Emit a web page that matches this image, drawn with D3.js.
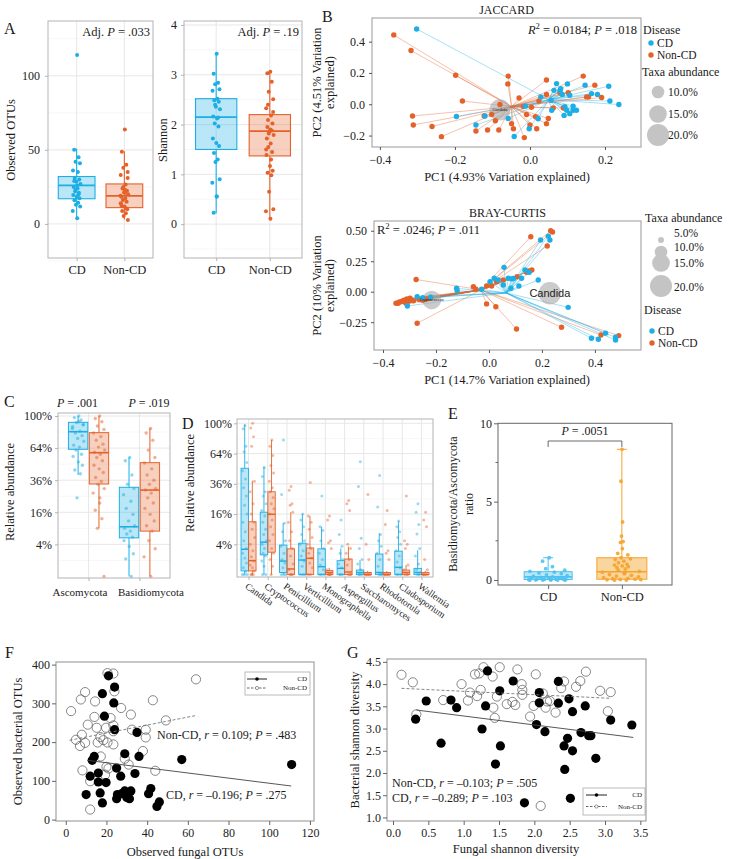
<!DOCTYPE html>
<html>
<head>
<meta charset="utf-8">
<title>Fungal microbiota figure</title>
<script src="https://cdn.jsdelivr.net/npm/d3@7"></script>
<style>
  body { margin: 0; background: #fff; }
</style>
</head>
<body>
<svg id="fig" width="730" height="859"></svg>
<script>
// ---------------- data ----------------
const groups = ["CD", "Non-CD"];

// A: observed OTUs / Shannon (box stats = lo, q1, median, q3, hi)
const aObsBoxCD = [4, 17, 26, 32, 51];
const aObsBoxNon = [3, 11, 19, 27, 49];
const aObsCD = [114, 50, 45, 42, 41, 36, 35, 31, 30, 28.5, 27, 25, 24, 22, 21, 19.5, 18.4, 17.3, 16, 14.3, 13, 11.7, 8.7, 3.8, 26, 29, 20, 23];
const aObsNon = [63.7, 48.7, 40, 38, 35, 33, 26.7, 24, 22.4, 21.3, 20, 18.4, 17.3, 16.1, 15, 13.5, 11.7, 9.9, 8.7, 7.2, 5.4, 2.7, 19, 21, 23, 12, 10.5, 25, 31, 14];
const aShanBoxCD = [0.22, 1.5, 2.15, 2.52, 3.42];
const aShanBoxNon = [0.1, 1.37, 1.87, 2.2, 3.06];
const aShanCD = [3.42, 3.02, 2.84, 2.81, 2.71, 2.68, 2.52, 2.49, 2.46, 2.36, 2.31, 2.16, 2.12, 2.02, 1.96, 1.72, 1.63, 1.57, 1.43, 1.30, 1.25, 0.90, 0.83, 0.55, 0.56, 0.23, 2.14, 2.4];
const aShanNon = [3.06, 3.03, 2.86, 2.66, 2.51, 2.33, 2.18, 2.09, 2.02, 1.86, 1.79, 1.72, 1.62, 1.55, 1.45, 1.39, 1.17, 1.07, 1.03, 0.98, 0.65, 0.30, 0.26, 0.11, 1.9, 1.95, 1.88, 1.82, 2.25, 1.5, 1.3, 2.4];

// B: PCoA coordinates [PC1, PC2]
const jacCD = [[-0.302,0.481],[-0.196,-0.078],[-0.144,-0.132],[-0.120,-0.075],[-0.058,-0.091],[-0.042,-0.206],[-0.002,-0.156],[-0.012,-0.012],[0.022,-0.093],[0.029,0.047],[0.056,0.026],[0.058,-0.038],[0.064,0.089],[0.071,0.132],[0.080,0.089],[0.100,0.130],[0.082,0.100],[0.086,0.063],[0.106,0.058],[0.093,-0.015],[0.098,-0.038],[0.106,-0.060],[0.091,-0.071],[0.115,-0.038],[0.124,-0.038],[0.115,-0.012],[0.147,0.122],[0.164,0.068],[0.180,0.063],[0.210,0.115],[0.213,0.021],[0.237,-0.002]];
const jacNon = [[-0.363,0.443],[-0.317,0.343],[-0.198,0.185],[-0.180,0.021],[-0.313,-0.075],[-0.311,-0.132],[-0.261,-0.142],[-0.236,-0.207],[-0.144,-0.171],[-0.113,-0.164],[-0.083,-0.164],[-0.092,-0.105],[-0.122,-0.075],[-0.102,-0.065],[-0.080,-0.002],[-0.058,0.180],[-0.059,0.130],[-0.029,0.040],[-0.049,-0.124],[-0.044,-0.156],[-0.015,-0.213],[-0.009,-0.065],[0.015,-0.080],[0.000,-0.132],[0.018,-0.156],[0.049,-0.091],[0.044,-0.124],[0.024,0.021],[0.004,-0.019],[0.044,0.063],[0.044,0.155],[0.062,-0.024],[0.089,-0.024],[0.080,0.074],[0.102,0.074],[0.142,0.180],[0.173,0.122],[0.156,0.047],[0.151,0.047],[0.191,0.043],[-0.018,-0.015]];
const jacCentCD = [0.050, 0.030];
const jacCentNon = [-0.049, -0.015];
const jacTaxa = [{ name: "Candida", x: -0.08, y: -0.036, ab: 0.19 }];

const brayCD = [[0.230,0.424],[0.224,0.456],[0.195,0.424],[0.057,0.20],[0.020,0.11],[0.035,0.096],[0.004,0.082],[0.073,0.11],[0.086,0.105],[0.092,0.108],[0.136,0.178],[0.152,0.159],[0.123,0.11],[0.186,0.096],[0.083,0.028],[0.113,0.047],[0.054,0.055],[-0.028,0.02],[-0.122,0.028],[-0.12,0.008],[-0.271,-0.041],[-0.308,-0.117],[0.299,-0.128],[0.387,-0.382],[0.413,-0.39],[0.44,-0.34],[0.478,-0.374],[0.478,-0.396],[-0.25,-0.05],[-0.22,-0.045]];
const brayNon = [[0.158,0.451],[0.233,0.50],[0.240,0.49],[0.220,0.375],[0.162,0.178],[0.150,0.170],[0.142,0.16],[0.106,0.123],[0.054,0.096],[0.029,0.082],[-0.009,0.047],[0.010,0.047],[-0.059,0.041],[-0.049,0.02],[-0.275,0.10],[-0.333,-0.082],[-0.343,-0.095],[-0.351,-0.095],[-0.292,-0.068],[-0.31,-0.06],[-0.30,-0.075],[-0.223,-0.054],[-0.236,-0.06],[-0.298,-0.054],[-0.321,-0.07],[-0.009,-0.10],[0.026,-0.123],[-0.271,-0.259],[0.104,-0.306],[0.274,-0.292],[0.423,-0.355],[0.49,-0.36],[-0.34,-0.085],[-0.327,-0.078],[-0.316,-0.088],[-0.285,-0.075],[-0.262,-0.065],[-0.25,-0.07],[-0.31,-0.1]];
const brayCentCD = [0.065, -0.01];
const brayCentNon = [-0.03, 0.015];
const brayTaxa = [{ name: "Candida", x: 0.23, y: -0.013, ab: 0.205 }, { name: "Cryptococcus", x: -0.216, y: -0.068, ab: 0.16 }];
const taxaLegendJac = [0.10, 0.15, 0.20];
const taxaLegendBray = [0.05, 0.10, 0.15, 0.20];

// C: phylum relative abundance
const cPhyla = ["Ascomycota", "Basidiomycota"];
const cBoxCD = [[0.40, 0.628, 0.814, 0.923, 1.0], [0, 0.058, 0.096, 0.309, 0.548]];
const cBoxNon = [[0.09, 0.332, 0.595, 0.803, 1.0], [0, 0.08, 0.29, 0.503, 0.852]];
const cPtsCD = [
  [1.0, 0.98, 0.95, 0.92, 0.89, 0.87, 0.82, 0.80, 0.77, 0.74, 0.71, 0.67, 0.65, 0.62, 0.58, 0.56, 0.51, 0.48, 0.44, 0.41, 0.24, 0.9, 0.85, 0.93],
  [0.55, 0.52, 0.40, 0.33, 0.30, 0.26, 0.22, 0.18, 0.15, 0.12, 0.10, 0.09, 0.08, 0.07, 0.06, 0.05, 0.035, 0.02, 0.012, 0.0]
];
const cPtsNon = [
  [1.0, 0.97, 0.93, 0.88, 0.84, 0.80, 0.76, 0.72, 0.68, 0.65, 0.62, 0.60, 0.58, 0.55, 0.52, 0.48, 0.45, 0.42, 0.38, 0.35, 0.33, 0.30, 0.27, 0.24, 0.21, 0.17, 0.13, 0.09, 0.0],
  [0.85, 0.80, 0.72, 0.62, 0.55, 0.50, 0.45, 0.40, 0.36, 0.33, 0.30, 0.29, 0.27, 0.24, 0.21, 0.18, 0.15, 0.12, 0.10, 0.08, 0.05, 0.03, 0.015, 0.0]
];

// D: genus relative abundance
const dGenera = ["Candida", "Cryptococcus", "Penicillium", "Verticillium", "Monographella", "Aspergillus", "Saccharomyces", "Rhodotorula", "Cladosporium", "Wallemia"];
const dBoxCD = [[0,0.0006,0.028,0.494,0.986],[0,0.017,0.046,0.17,0.508],[0,0.0002,0.008,0.038,0.115],[0,0,0.0093,0.043,0.16],[0,0,0.0027,0.029,0.10],[0,0,0.0017,0.0085,0.03],[0,0,0.0002,0.0009,0.0093],[0,0,0.0002,0.0185,0.075],[0,0,0.0023,0.024,0.124],[0,0,0.0002,0.0017,0.026]];
const dBoxNon = [[0,0.0006,0.0085,0.122,0.385],[0,0.022,0.159,0.30,0.79],[0,0,0.0014,0.029,0.17],[0,0,0.0116,0.031,0.149],[0,0,0.0002,0.0007,0.002],[0,0,0.0003,0.0106,0.034],[0,0,0,0.0002,0.0006],[0,0,0,0.0002,0.0006],[0,0,0.0002,0.0009,0.004],[0,0,0,0.0002,0.0006]];
const dPtsCD = [
  [0.97,0.93,0.72,0.66,0.55,0.47,0.40,0.33,0.27,0.21,0.16,0.12,0.08,0.05,0.03,0.02,0.012,0.006,0.002,0.0005,0,0,0],
  [0.50,0.42,0.30,0.27,0.22,0.18,0.15,0.12,0.09,0.07,0.05,0.04,0.03,0.02,0.015,0.008,0.003,0,0],
  [0.79,0.28,0.115,0.08,0.05,0.035,0.02,0.01,0.006,0.002,0,0,0],
  [0.16,0.13,0.10,0.07,0.05,0.04,0.025,0.015,0.008,0.003,0,0,0],
  [0.27,0.10,0.085,0.05,0.03,0.02,0.01,0.004,0.001,0,0,0],
  [0.13,0.07,0.035,0.02,0.01,0.005,0.002,0,0,0],
  [0.556,0.34,0.058,0.03,0.01,0.005,0.001,0,0,0],
  [0.43,0.2,0.07,0.05,0.035,0.02,0.01,0.003,0,0,0],
  [0.125,0.1,0.08,0.06,0.04,0.025,0.015,0.007,0.002,0,0,0],
  [0.22,0.17,0.11,0.072,0.03,0.015,0.005,0.001,0,0]
];
const dPtsNon = [
  [1.0,0.94,0.83,0.72,0.38,0.3,0.22,0.16,0.12,0.09,0.06,0.04,0.025,0.014,0.008,0.004,0.002,0.0006,0,0,0],
  [0.79,0.72,0.62,0.52,0.45,0.38,0.33,0.30,0.26,0.22,0.19,0.16,0.13,0.10,0.07,0.05,0.03,0.02,0.01,0.003,0],
  [0.34,0.31,0.22,0.21,0.17,0.12,0.08,0.05,0.03,0.015,0.005,0.001,0,0,0],
  [0.37,0.15,0.12,0.09,0.06,0.04,0.03,0.02,0.012,0.006,0.002,0,0],
  [0.15,0.13,0.05,0.044,0.03,0.001,0,0,0,0],
  [0.24,0.22,0.18,0.04,0.03,0.02,0.01,0.004,0,0,0],
  [0.28,0.04,0.01,0,0,0,0],
  [0.18,0.11,0.025,0.02,0.01,0,0,0,0],
  [0.27,0.05,0.04,0.03,0.004,0.001,0,0,0],
  [0.17,0.13,0.10,0.01,0.001,0,0,0]
];

// E: Basidiomycota / Ascomycota ratio
const eBoxCD = [0, 0.03, 0.2, 0.53, 1.42];
const eBoxNon = [0, 0.05, 0.53, 1.42, 8.34];
const ePtsCD = [1.42, 1.2, 0.85, 0.72, 0.62, 0.55, 0.5, 0.45, 0.4, 0.33, 0.28, 0.24, 0.2, 0.17, 0.14, 0.12, 0.1, 0.08, 0.06, 0.05, 0.04, 0.03, 0.02, 0.015, 0.01, 0.005, 0, 0, 0, 0];
const ePtsNon = [8.34, 6.3, 3.7, 2.8, 2.45, 2.4, 2.0, 1.7, 1.6, 1.42, 1.35, 1.3, 1.2, 1.1, 1.0, 0.95, 0.9, 0.85, 0.8, 0.7, 0.62, 0.55, 0.5, 0.45, 0.4, 0.35, 0.3, 0.25, 0.2, 0.15, 0.1, 0.08, 0.05, 0.03, 0.02, 0.01, 0, 0];

// F: fungal vs bacterial OTUs [fungal, bacterial]
const fCD = [[21,371],[24,342],[18,325],[23.6,301],[19,267],[24,232],[35,225],[36,163],[29,170],[57,155],[111,142],[14,163],[13,153],[25,133],[27,112],[34,119],[16,120],[12,112],[16,97],[19.8,95.5],[10,64.5],[16.9,68.8],[25.4,64.5],[27.5,67],[29,74],[30,57],[31.3,54],[32,74],[25,54],[18,43],[40.7,67],[41.8,80],[44.8,34],[46,45.6]];
const fNon = [[2.6,280],[9.5,329],[7.4,310],[14.4,305],[20.5,378],[23.4,377],[23.9,331],[27.2,288],[32,271],[42.8,308],[14.1,265],[10.8,245],[15.2,237],[22,262],[19.8,237],[23.4,243],[32.5,232],[39.3,232],[39.3,212],[49.2,256],[5,206],[7.9,219],[9.5,198],[7,190],[17,213],[18.5,205],[15.7,199],[20.5,199],[23.4,194],[23.4,228],[37.9,177],[8.2,127],[12,99],[17.2,163],[19.3,116],[21,132],[29,157],[30.9,142],[44,126],[12,26],[64,362],[20,136]];
const fFitCD = [[10.6,153],[110.8,86.7]];
const fFitNon = [[1.8,204.6],[64.4,269]];

// G: fungal vs bacterial Shannon
const gCD = [[1.338,4.296],[1.70,4.07],[2.34,4.06],[1.51,3.85],[2.07,3.81],[0.47,3.62],[0.82,3.64],[0.90,3.47],[1.31,3.51],[2.07,3.58],[2.34,3.57],[2.49,3.67],[2.72,3.51],[2.54,3.38],[0.32,3.21],[2.03,3.09],[3.08,3.19],[3.38,3.08],[1.26,2.99],[2.15,2.93],[2.66,2.91],[2.77,2.84],[2.80,2.84],[0.68,2.67],[2.47,2.78],[2.42,2.61],[1.52,2.61],[2.54,2.50],[2.87,2.33],[1.45,2.20],[2.43,2.08],[2.51,1.43],[1.86,1.33]];
const gNon = [[0.12,4.21],[0.28,4.04],[1.28,4.38],[1.16,4.22],[1.22,4.24],[1.41,4.17],[1.51,4.38],[1.76,4.33],[2.02,4.22],[0.97,4.00],[1.09,3.81],[1.19,3.73],[1.24,3.87],[1.06,3.63],[0.71,3.64],[1.47,3.72],[1.42,3.47],[1.44,3.24],[1.61,3.55],[1.69,3.60],[1.73,3.53],[1.82,4.00],[1.83,3.87],[1.83,3.76],[1.94,3.27],[1.99,3.51],[2.12,3.79],[2.16,3.47],[2.18,3.61],[2.22,3.62],[2.30,3.36],[2.38,3.91],[2.42,4.06],[2.59,3.94],[2.65,4.07],[2.73,4.28],[2.93,3.85],[3.08,3.82],[3.04,3.39],[0.33,3.32],[2.09,1.26]];
const gFitCD = [[0.33,3.417],[3.40,2.80]];
const gFitNon = [[0.12,3.905],[3.08,3.68]];

// ---------------- helpers ----------------
const SERIF = "'Liberation Serif','DejaVu Serif',serif";
const SANS = "'Liberation Sans',Arial,sans-serif";
const BLUE = "#1caee5", ORANGE = "#e4622a";
const E_BLUE = "#4fc2ef", E_ORANGE = "#f5a32b";
const JIT = [0.12,-0.62,0.48,-0.27,0.83,-0.91,0.31,-0.46,0.66,-0.08,0.95,-0.74,0.22,-0.37,0.57,-0.83,0.04,0.72,-0.55,0.38,-0.18,0.88,-0.97,0.15];

const svg = d3.select("#fig");

function txt(x, y, parts, o = {}) {
  const size = o.size || 12.5;
  const t = svg.append("text").attr("x", x).attr("y", y).attr("dy", o.dy || "0.35em")
    .attr("font-family", o.family || SERIF).attr("font-size", size)
    .attr("fill", o.fill || "#1a1a1a").attr("text-anchor", o.anchor || "start");
  if (o.rotate) t.attr("transform", `rotate(${o.rotate},${x},${y})`);
  if (typeof parts === "string") parts = [parts];
  parts.forEach(p => {
    if (typeof p === "string") { t.append("tspan").text(p); return; }
    const s = t.append("tspan").text(p.t);
    if (p.i) s.attr("font-style", "italic");
    if (p.sup) s.attr("font-size", size * 0.7).attr("dy", -size * 0.4);
    if (p.down) s.attr("dy", size * 0.4);
  });
  return t;
}

function gridH(x0, x1, y, vals, major) {
  svg.append("g").selectAll("line").data(vals).join("line")
    .attr("x1", x0).attr("x2", x1).attr("y1", d => y(d)).attr("y2", d => y(d))
    .attr("stroke", major ? "#e4e4e4" : "#f1f1f1").attr("stroke-width", major ? 0.9 : 0.6);
}
function gridV(y0, y1, xs) {
  svg.append("g").selectAll("line").data(xs).join("line")
    .attr("x1", d => d).attr("x2", d => d).attr("y1", y0).attr("y2", y1)
    .attr("stroke", "#e4e4e4").attr("stroke-width", 0.9);
}
function frame(x0, y0, x1, y1, col, w) {
  svg.append("rect").attr("x", x0).attr("y", y0).attr("width", x1 - x0).attr("height", y1 - y0)
    .attr("fill", "none").attr("stroke", col || "#b3b3b3").attr("stroke-width", w || 1);
}
function axis(gen, tx, ty, o = {}) {
  const g = svg.append("g").attr("transform", `translate(${tx},${ty})`).call(gen);
  g.select(".domain").remove();
  g.selectAll(".tick line").attr("stroke", o.tick || "#b3b3b3");
  g.selectAll(".tick text").attr("font-family", SERIF).attr("font-size", o.size || 12).attr("fill", "#222");
  return g;
}
function drawBox(cx, w, s, y, col, fo, sw, cap) {
  const g = svg.append("g").attr("stroke", col).attr("stroke-width", sw || 1);
  g.append("line").attr("x1", cx).attr("x2", cx).attr("y1", y(s[0])).attr("y2", y(s[1]));
  g.append("line").attr("x1", cx).attr("x2", cx).attr("y1", y(s[3])).attr("y2", y(s[4]));
  if (cap) g.append("line").attr("x1", cx - cap / 2).attr("x2", cx + cap / 2).attr("y1", y(s[4])).attr("y2", y(s[4]));
  g.append("rect").attr("x", cx - w / 2).attr("width", w).attr("y", y(s[3]))
    .attr("height", Math.max(0.6, y(s[1]) - y(s[3]))).attr("fill", col).attr("fill-opacity", fo);
  g.append("line").attr("x1", cx - w / 2).attr("x2", cx + w / 2).attr("y1", y(s[2])).attr("y2", y(s[2]))
    .attr("stroke-width", (sw || 1) * 1.6);
}
function drawPts(vals, cx, jw, y, col, r, op) {
  svg.append("g").selectAll("circle").data(vals).join("circle")
    .attr("cx", (d, i) => cx + JIT[i % JIT.length] * (typeof jw === "function" ? jw(d) : jw))
    .attr("cy", d => y(d)).attr("r", r).attr("fill", col).attr("fill-opacity", op);
}

// ---------------- panel A ----------------
function panelA(c) {
  const x = d3.scalePoint().domain(groups).range([c.x0, c.x1]).padding(0.6);
  const y = d3.scaleLinear().domain(c.yDom).range([258, 21]);
  gridH(c.x0, c.x1, y, c.minor, false);
  gridH(c.x0, c.x1, y, c.ticks, true);
  gridV(21, 258, groups.map(x));
  const w = x.step() * 0.77;
  drawBox(x("CD"), w, c.boxCD, y, BLUE, 0.3, 1.1);
  drawBox(x("Non-CD"), w, c.boxNon, y, ORANGE, 0.3, 1.1);
  drawPts(c.ptsCD, x("CD"), 4, y, BLUE, 2, 1);
  drawPts(c.ptsNon, x("Non-CD"), 4, y, ORANGE, 2, 1);
  frame(c.x0, 21, c.x1, 258);
  axis(d3.axisLeft(y).tickValues(c.ticks).tickFormat(d3.format("d")).tickSize(3).tickPadding(c.pad), c.x0, 0);
  axis(d3.axisBottom(x).tickSize(3).tickPadding(4), 0, 258, { size: 12.5 });
  txt(c.x1 - 3, 32, ["Adj. ", { t: "P", i: true }, " = " + c.p], { anchor: "end", size: 12.5 });
  txt(c.labX, 140, c.label, { anchor: "middle", rotate: -90 });
}
panelA({ x0: 48, x1: 153, yDom: [-23, 137], ticks: [0, 50, 100], minor: [-25, 25, 75, 125],
  boxCD: aObsBoxCD, boxNon: aObsBoxNon, ptsCD: aObsCD, ptsNon: aObsNon, pad: 5,
  p: ".033", label: "Observed OTUs", labX: 11 });
panelA({ x0: 184, x1: 302, yDom: [-0.68, 4.08], ticks: [0, 1, 2, 3, 4], minor: [-0.5, 0.5, 1.5, 2.5, 3.5],
  boxCD: aShanBoxCD, boxNon: aShanBoxNon, ptsCD: aShanCD, ptsNon: aShanNon, pad: 4,
  p: ".19", label: "Shannon", labX: 163 });

// ---------------- panel B ----------------
const rTaxa = d3.scaleSqrt().domain([0.05, 0.2]).range([3, 11]);
function pcoa(c) {
  const x = d3.scaleLinear().domain(c.xDom).range([c.x0, c.x1]);
  const y = d3.scaleLinear().domain(c.yDom).range([c.y1, c.y0]);
  const lines = svg.append("g").attr("stroke-width", 0.6).attr("stroke-opacity", 0.65);
  [[c.non, c.centNon, ORANGE], [c.cd, c.centCD, BLUE]].forEach(([pts, cen, col]) => {
    lines.append("g").attr("stroke", col).selectAll("line").data(pts).join("line")
      .attr("x1", d => x(d[0])).attr("y1", d => y(d[1])).attr("x2", x(cen[0])).attr("y2", y(cen[1]));
  });
  c.taxa.forEach(t => {
    svg.append("circle").attr("cx", x(t.x)).attr("cy", y(t.y)).attr("r", rTaxa(t.ab))
      .attr("fill", "#a9a9a9").attr("fill-opacity", 0.6);
  });
  svg.append("g").selectAll("circle").data(c.non).join("circle")
    .attr("cx", d => x(d[0])).attr("cy", d => y(d[1])).attr("r", 2.7).attr("fill", ORANGE);
  svg.append("g").selectAll("circle").data(c.cd).join("circle")
    .attr("cx", d => x(d[0])).attr("cy", d => y(d[1])).attr("r", 2.7).attr("fill", BLUE);
  c.taxa.forEach((t, i) => {
    txt(x(t.x), y(t.y), t.name, { anchor: "middle", family: SANS, size: c.taxaSize[i], fill: "#222" });
  });
  frame(c.x0, c.y0, c.x1, c.y1, "#999");
  axis(d3.axisBottom(x).tickValues(c.xTicks).tickFormat(d3.format(".1f")).tickSize(3).tickPadding(5), 0, c.y1, { tick: "#555" });
  axis(d3.axisLeft(y).tickValues(c.yTicks).tickFormat(d3.format(c.yFmt)).tickSize(3).tickPadding(4), c.x0, 0, { tick: "#555" });
  txt((c.x0 + c.x1) / 2, c.y0 - 8, c.title, { anchor: "middle", size: 12 });
  txt(507, c.y1 + 30, c.xLab, { anchor: "middle" });
  const yc = (c.y0 + c.y1) / 2;
  txt(317, yc, c.yLab1, { anchor: "middle", rotate: -90 });
  txt(330, yc, "explained)", { anchor: "middle", rotate: -90 });
}
pcoa({ x0: 372, x1: 641, y0: 18, y1: 147, xDom: [-0.421, 0.296], yDom: [-0.273, 0.551],
  xTicks: [-0.4, -0.2, 0, 0.2], yTicks: [-0.2, 0, 0.2, 0.4], yFmt: ".1f",
  cd: jacCD, non: jacNon, centCD: jacCentCD, centNon: jacCentNon, taxa: jacTaxa, taxaSize: [4],
  title: "JACCARD", xLab: "PC1 (4.93% Variation explained)", yLab1: "PC2 (4.51% Variation" });
pcoa({ x0: 374, x1: 641, y0: 221, y1: 350, xDom: [-0.434, 0.574], yDom: [-0.478, 0.58],
  xTicks: [-0.4, -0.2, 0, 0.2, 0.4], yTicks: [-0.25, 0, 0.25, 0.5], yFmt: ".2f",
  cd: brayCD, non: brayNon, centCD: brayCentCD, centNon: brayCentNon, taxa: brayTaxa, taxaSize: [11, 4],
  title: "BRAY-CURTIS", xLab: "PC1 (14.7% Variation explained)", yLab1: "PC2 (10% Variation" });

txt(637, 30, [{ t: "R", i: true }, { t: "2", sup: true }, { t: " = 0.0184; ", down: true }, { t: "P", i: true }, " = .018"], { anchor: "end" });
txt(377, 230, ["R", { t: "2", sup: true }, { t: " = .0246; ", down: true }, { t: "P", i: true }, " = .011"]);

// legends of B
function diseaseLegend(x, yTitle, yRows) {
  txt(x, yTitle, "Disease", { size: 12 });
  [[BLUE, "CD"], [ORANGE, "Non-CD"]].forEach(([col, lab], i) => {
    svg.append("circle").attr("cx", x + 8).attr("cy", yRows[i]).attr("r", 2.7).attr("fill", col);
    txt(x + 14, yRows[i], lab, { size: 11.5 });
  });
}
function taxaLegend(x, yTitle, vals, ys, labX, labYs) {
  txt(x, yTitle, "Taxa abundance", { size: 12 });
  vals.forEach((v, i) => {
    svg.append("circle").attr("cx", x + 16).attr("cy", ys[i]).attr("r", rTaxa(v)).attr("fill", "#c4c4c4");
    txt(labX, labYs[i], d3.format(".1%")(v), { size: 11.5 });
  });
}
diseaseLegend(643, 30, [43, 55]);
taxaLegend(642, 72, taxaLegendJac, [92, 114, 135], 668, [92, 114, 135]);
taxaLegend(645, 218, taxaLegendBray, [240, 252, 263, 286], 674, [233, 247, 263, 287]);
diseaseLegend(644, 310, [331, 343]);

// ---------------- panel C ----------------
const pctTicks = [0.04, 0.16, 0.36, 0.64, 1];
const pctMinor = [0.01, 0.09, 0.25, 0.49, 0.81];
const xC = d3.scalePoint().domain(cPhyla).range([58, 170]).padding(0.6);
const yC = d3.scaleSqrt().domain([0, 1]).range([576.5, 416]);
gridH(58, 170, yC, pctMinor, false);
gridH(58, 170, yC, pctTicks, true);
gridV(413, 578, cPhyla.map(xC));
cPhyla.forEach((p, i) => {
  const off = xC.step() * 0.205, w = xC.step() * 0.38;
  drawBox(xC(p) - off, w, cBoxCD[i], yC, BLUE, 0.3, 1);
  drawBox(xC(p) + off, w, cBoxNon[i], yC, ORANGE, 0.3, 1);
  drawPts(cPtsCD[i], xC(p) - off, 6, yC, BLUE, 1.7, 0.5);
  drawPts(cPtsNon[i], xC(p) + off, 6, yC, ORANGE, 1.7, 0.5);
});
frame(58, 413, 170, 578);
axis(d3.axisLeft(yC).tickValues(pctTicks).tickFormat(d3.format(".0%")).tickSize(3).tickPadding(3), 58, 0);
axis(d3.axisBottom(xC).tickFormat("").tickSize(3), 0, 578);
txt(80, 592, "Ascomycota", { anchor: "middle", size: 11 });
txt(151, 592, "Basidiomycota", { anchor: "middle", size: 11 });
txt(77.5, 403, [{ t: "P", i: true }, " = .001"], { anchor: "middle", size: 12 });
txt(149, 403, [{ t: "P", i: true }, " = .019"], { anchor: "middle", size: 12 });
txt(10, 492, "Relative abundance", { anchor: "middle", rotate: -90 });

// ---------------- panel D ----------------
const xD = d3.scalePoint().domain(dGenera).range([237, 433]).padding(0.6);
const yD = d3.scaleSqrt().domain([0, 1]).range([574.6, 423.3]);
gridH(237, 433, yD, pctMinor, false);
gridH(237, 433, yD, pctTicks, true);
gridV(419, 577, dGenera.map(xD));
dGenera.forEach((g, i) => {
  const off = 3.8, w = 7.4;
  drawBox(xD(g) - off, w, dBoxCD[i], yD, BLUE, 0.3, 0.9);
  drawBox(xD(g) + off, w, dBoxNon[i], yD, ORANGE, 0.3, 0.9);
  drawPts(dPtsCD[i], xD(g) - off, 2.5, yD, BLUE, 1.5, 0.45);
  drawPts(dPtsNon[i], xD(g) + off, 2.5, yD, ORANGE, 1.5, 0.45);
  txt(xD(g) - 2, 585, g, { size: 9.5, rotate: 35 });
});
frame(237, 419, 433, 577);
axis(d3.axisLeft(yD).tickValues(pctTicks).tickFormat(d3.format(".0%")).tickSize(3).tickPadding(2), 237, 0);
axis(d3.axisBottom(xD).tickFormat("").tickSize(3), 0, 577);
txt(190, 483, "Relative abundance", { anchor: "middle", rotate: -90 });

// ---------------- panel E ----------------
const xE = d3.scalePoint().domain(groups).range([498, 672]).padding(0.68);
const yE = d3.scaleLinear().domain([-0.32, 10]).range([585, 423.3]);
drawBox(xE("CD"), 48, eBoxCD, yE, E_BLUE, 0.4, 1, 10);
drawBox(xE("Non-CD"), 50, eBoxNon, yE, E_ORANGE, 0.45, 1, 10);
const eJit = d => d < 0.7 ? 20 : d < 2 ? 9 : 1.5;
drawPts(ePtsCD, xE("CD"), eJit, yE, E_BLUE, 1.9, 0.9);
drawPts(ePtsNon, xE("Non-CD"), eJit, yE, E_ORANGE, 1.9, 0.9);
frame(498, 423.3, 672, 585, "#666");
axis(d3.axisLeft(yE).tickValues([0, 5, 10]).tickSize(4).tickPadding(2), 498, 0, { tick: "#666" });
svg.append("g").selectAll("line").data([2.5, 7.5]).join("line")
  .attr("x1", 495.5).attr("x2", 498).attr("y1", d => yE(d)).attr("y2", d => yE(d)).attr("stroke", "#666");
axis(d3.axisBottom(xE).tickSize(4).tickPadding(3), 0, 585, { tick: "#666", size: 12.5 });
svg.append("path").attr("fill", "none").attr("stroke", "#444").attr("stroke-width", 0.8)
  .attr("d", `M${xE("CD")},447V441H${xE("Non-CD")}V447`);
txt((xE("CD") + xE("Non-CD")) / 2, 431, [{ t: "P", i: true }, " = .0051"], { anchor: "middle", size: 12 });
txt(453, 504, "Basidiomycota/Ascomycota", { anchor: "middle", rotate: -90, size: 12 });
txt(469, 504, "ratio", { anchor: "middle", rotate: -90, size: 12 });

// ---------------- panels F & G ----------------
function scatter(c) {
  const x = d3.scaleLinear().domain(c.xDom).range([c.x0, c.x1]);
  const y = d3.scaleLinear().domain(c.yDom).range([c.y1, c.y0]);
  const line = d3.line().x(d => x(d[0])).y(d => y(d[1]));
  svg.append("g").selectAll("circle").data(c.non).join("circle")
    .attr("cx", d => x(d[0])).attr("cy", d => y(d[1])).attr("r", 4.6)
    .attr("fill", "none").attr("stroke", "#555").attr("stroke-width", 0.7);
  svg.append("g").selectAll("circle").data(c.cd).join("circle")
    .attr("cx", d => x(d[0])).attr("cy", d => y(d[1])).attr("r", 4.6).attr("fill", "#000");
  svg.append("path").attr("d", line(c.fitNon)).attr("fill", "none").attr("stroke", "#777")
    .attr("stroke-width", 0.9).attr("stroke-dasharray", "3,2");
  svg.append("path").attr("d", line(c.fitCD)).attr("fill", "none").attr("stroke", "#444").attr("stroke-width", 0.9);
  frame(c.x0, c.y0, c.x1, c.y1, "#aaa", 1.3);
  axis(d3.axisBottom(x).tickValues(c.xTicks).tickFormat(d3.format(c.fmt)).tickSize(4).tickPadding(3), 0, c.y1, { tick: "#666" });
  axis(d3.axisLeft(y).tickValues(c.yTicks).tickFormat(d3.format(c.fmt)).tickSize(4).tickPadding(2), c.x0, 0, { tick: "#666" });
  // legend
  const L = c.leg;
  svg.append("rect").attr("x", L.x0).attr("y", L.y0).attr("width", L.x1 - L.x0).attr("height", L.y1 - L.y0)
    .attr("fill", "#fff").attr("stroke", "#aaa").attr("stroke-width", 0.8);
  svg.append("line").attr("x1", L.lx0).attr("x2", L.lx1).attr("y1", L.r1).attr("y2", L.r1).attr("stroke", "#222");
  svg.append("circle").attr("cx", (L.lx0 + L.lx1) / 2).attr("cy", L.r1).attr("r", 1.8).attr("fill", "#000");
  svg.append("line").attr("x1", L.lx0).attr("x2", L.lx1).attr("y1", L.r2).attr("y2", L.r2)
    .attr("stroke", "#666").attr("stroke-dasharray", "2.5,1.5");
  svg.append("circle").attr("cx", (L.lx0 + L.lx1) / 2).attr("cy", L.r2).attr("r", 1.6)
    .attr("fill", "#fff").attr("stroke", "#555").attr("stroke-width", 0.6);
  txt(L.x1 - 3, L.r1, "CD", { anchor: "end", size: 7 });
  txt(L.x1 - 3, L.r2, "Non-CD", { anchor: "end", size: 7 });
  txt(c.xLabX, c.xLabY, c.xLab, { anchor: "middle" });
  txt(c.yLabX, (c.y0 + c.y1) / 2, c.yLab, { anchor: "middle", rotate: -90 });
}
scatter({ x0: 56, x1: 314, y0: 662, y1: 821, xDom: [-4.8, 122], yDom: [-3.6, 406.7],
  xTicks: d3.range(0, 121, 20), yTicks: d3.range(0, 401, 100), fmt: "d",
  cd: fCD, non: fNon, fitCD: fFitCD, fitNon: fFitNon,
  leg: { x0: 245, x1: 310, y0: 672, y1: 695, lx0: 247, lx1: 267, r1: 679, r2: 688 },
  xLab: "Observed fungal OTUs", xLabX: 185, xLabY: 852, yLab: "Observed bacterial OTUs", yLabX: 18 });
scatter({ x0: 387, x1: 646, y0: 659, y1: 821, xDom: [-0.085, 3.58], yDom: [0.92, 4.565],
  xTicks: d3.range(0, 3.51, 0.5), yTicks: d3.range(1, 4.51, 0.5), fmt: ".1f",
  cd: gCD, non: gNon, fitCD: gFitCD, fitNon: gFitNon,
  leg: { x0: 583, x1: 645, y0: 788, y1: 815, lx0: 586, lx1: 607, r1: 795, r2: 806.5 },
  xLab: "Fungal shannon diversity", xLabX: 516, xLabY: 849, yLab: "Bacterial shannon diversity", yLabX: 355 });

txt(157, 735, ["Non-CD, ", { t: "r", i: true }, " = 0.109; ", { t: "P", i: true }, " = .483"], { size: 12 });
txt(166, 795, ["CD, ", { t: "r", i: true }, " = \u20130.196; ", { t: "P", i: true }, " = .275"], { size: 12 });
txt(392, 783, ["Non-CD, ", { t: "r", i: true }, " = \u20130.103; ", { t: "P", i: true }, " = .505"], { size: 12 });
txt(392, 798, ["CD, ", { t: "r", i: true }, " = \u20130.289; ", { t: "P", i: true }, " = .103"], { size: 12 });

// panel letters
[["A", 4, 28], ["B", 322, 16], ["C", 4, 401], ["D", 182, 423], ["E", 448, 413], ["F", 5, 652], ["G", 347, 652]]
  .forEach(([l, x, y]) => txt(x, y, l, { size: 16 }));
</script>
</body>
</html>
